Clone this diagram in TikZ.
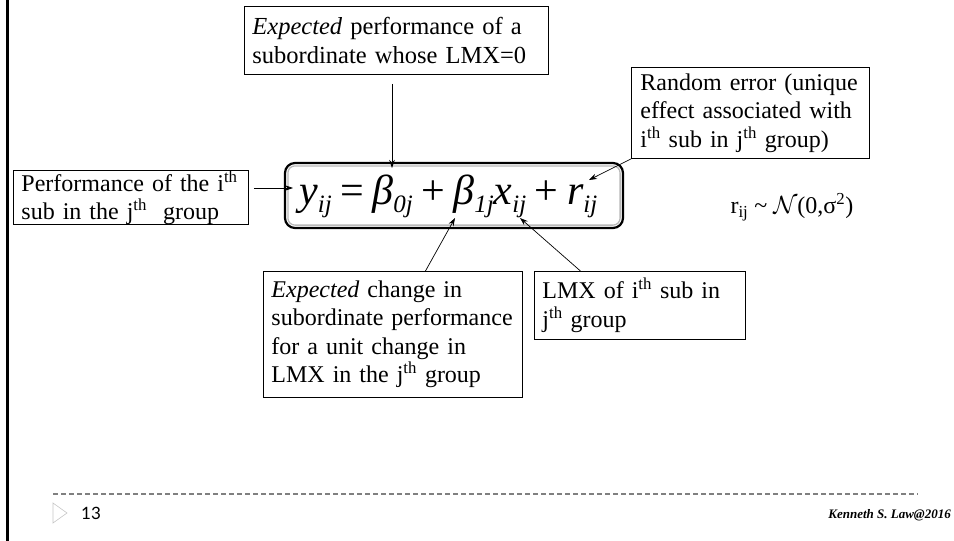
\documentclass[tikz,border=0pt]{standalone}
\usepackage{fontspec}
\setmainfont{Liberation Serif}
\newfontfamily\numfont{Lato}
\usetikzlibrary{arrows.meta}
\newcommand\lbfont{\fontsize{24}{28.5}\selectfont}
\newcommand\topfont{\fontsize{24.5}{28.5}\selectfont}
\newcommand\eqfont{\fontsize{42}{42}\selectfont}
\newcommand\esub[1]{\raisebox{-8.5pt}{\fontsize{25}{25}\selectfont #1}}
\newcommand\sth{\textsuperscript{th}}
\newcommand\eqgap{\hspace{8.5pt}}
\begin{document}
\begin{tikzpicture}[x=1pt,y=-1pt,
  lbl/.style={draw, line width=0.9pt, anchor=north west, align=left,
    font=\lbfont, inner xsep=8pt, inner ysep=0pt},
  arr/.style={-{Stealth[length=8pt,width=5.5pt]}, line width=0.7pt},
]
\useasboundingbox (0,0) rectangle (954,541);

% slide frame edge
\draw[line width=3pt] (7.5,0) -- (7.5,541);

% explanatory boxes
\node[lbl, font=\topfont, text width=288pt, minimum height=68pt] (top) at (244,6)
  {\textit{Expected} performance of a\\subordinate whose LMX=0};
\node[lbl, text width=220pt, minimum height=91pt, inner xsep=9pt] (rand) at (631,67)
  {Random error (unique\\effect associated with\\i\sth{} sub in j\sth{} group)};
\node[lbl, text width=219pt, minimum height=53pt] (perf) at (13,170)
  {Performance of the i\sth\\sub in the j\sth{}\ \ group};
\node[lbl, text width=243pt, minimum height=126pt] (chg) at (263,271)
  {\textit{Expected} change in\\subordinate performance\\for a unit change in\\LMX in the j\sth{} group};
\node[lbl, text width=195pt, minimum height=68pt] (lmx) at (534,271)
  {LMX of i\sth{} sub in\\j\sth{} group};

% the model equation in its double rounded frame
\node[draw, line width=2.2pt, rounded corners=10pt, minimum width=338pt,
  minimum height=65pt, inner sep=0pt] (eqbox) at (454,195.5) {};
\draw[gray!55, line width=1.3pt, rounded corners=7pt]
  ([shift={(4,4)}]eqbox.north west) rectangle ([shift={(-4,-4)}]eqbox.south east);
\node[anchor=base west, inner sep=0pt, font=\eqfont\itshape] (eqn) at (299,204)
  {y\esub{ij}\eqgap{\upshape=}\eqgap β\esub{0j}\eqgap{\upshape+}\eqgap β\esub{1j}x\esub{ij}\eqgap{\upshape+}\eqgap r\esub{ij}};

\node[anchor=west, font=\lbfont] (dist) at (727,207)
  {r\textsubscript{ij} \textasciitilde{} $\mathcal{N}$(0,σ\textsuperscript{2})};

% arrow targets on the equation
\coordinate (betaTop) at (392,168);
\coordinate (yTip) at (293,188);
\coordinate (rTip) at (589,180);
\coordinate (bOneTip) at (455,218);
\coordinate (xTip) at (520,218);

\draw[arr] ([yshift=-9pt]top.south -| betaTop) -- (betaTop);
\draw[arr] ([xshift=5pt]perf.east |- yTip) -- (yTip);
\draw[arr] (rand.south west) -- (rTip);
\draw[arr] ([xshift=32.5pt]chg.north) -- (bOneTip);
\draw[arr] ([xshift=-59.5pt]lmx.north) -- (xTip);

% footer
\draw[gray, line width=1.5pt, dash pattern=on 5pt off 3pt] (53,494) -- (918,494);
\draw[gray!45, line width=0.6pt] (53,503) -- (67,513) -- (53,523) -- cycle;
\node[anchor=west, inner sep=0pt, font=\numfont\fontsize{17}{17}\selectfont] (pg) at (81,513) {13};
\node[anchor=east, inner sep=0pt, font=\fontsize{13}{13}\selectfont\bfseries\itshape] (cr) at (951,515)
  {Kenneth S. Law@2016};
\end{tikzpicture}
\end{document}
